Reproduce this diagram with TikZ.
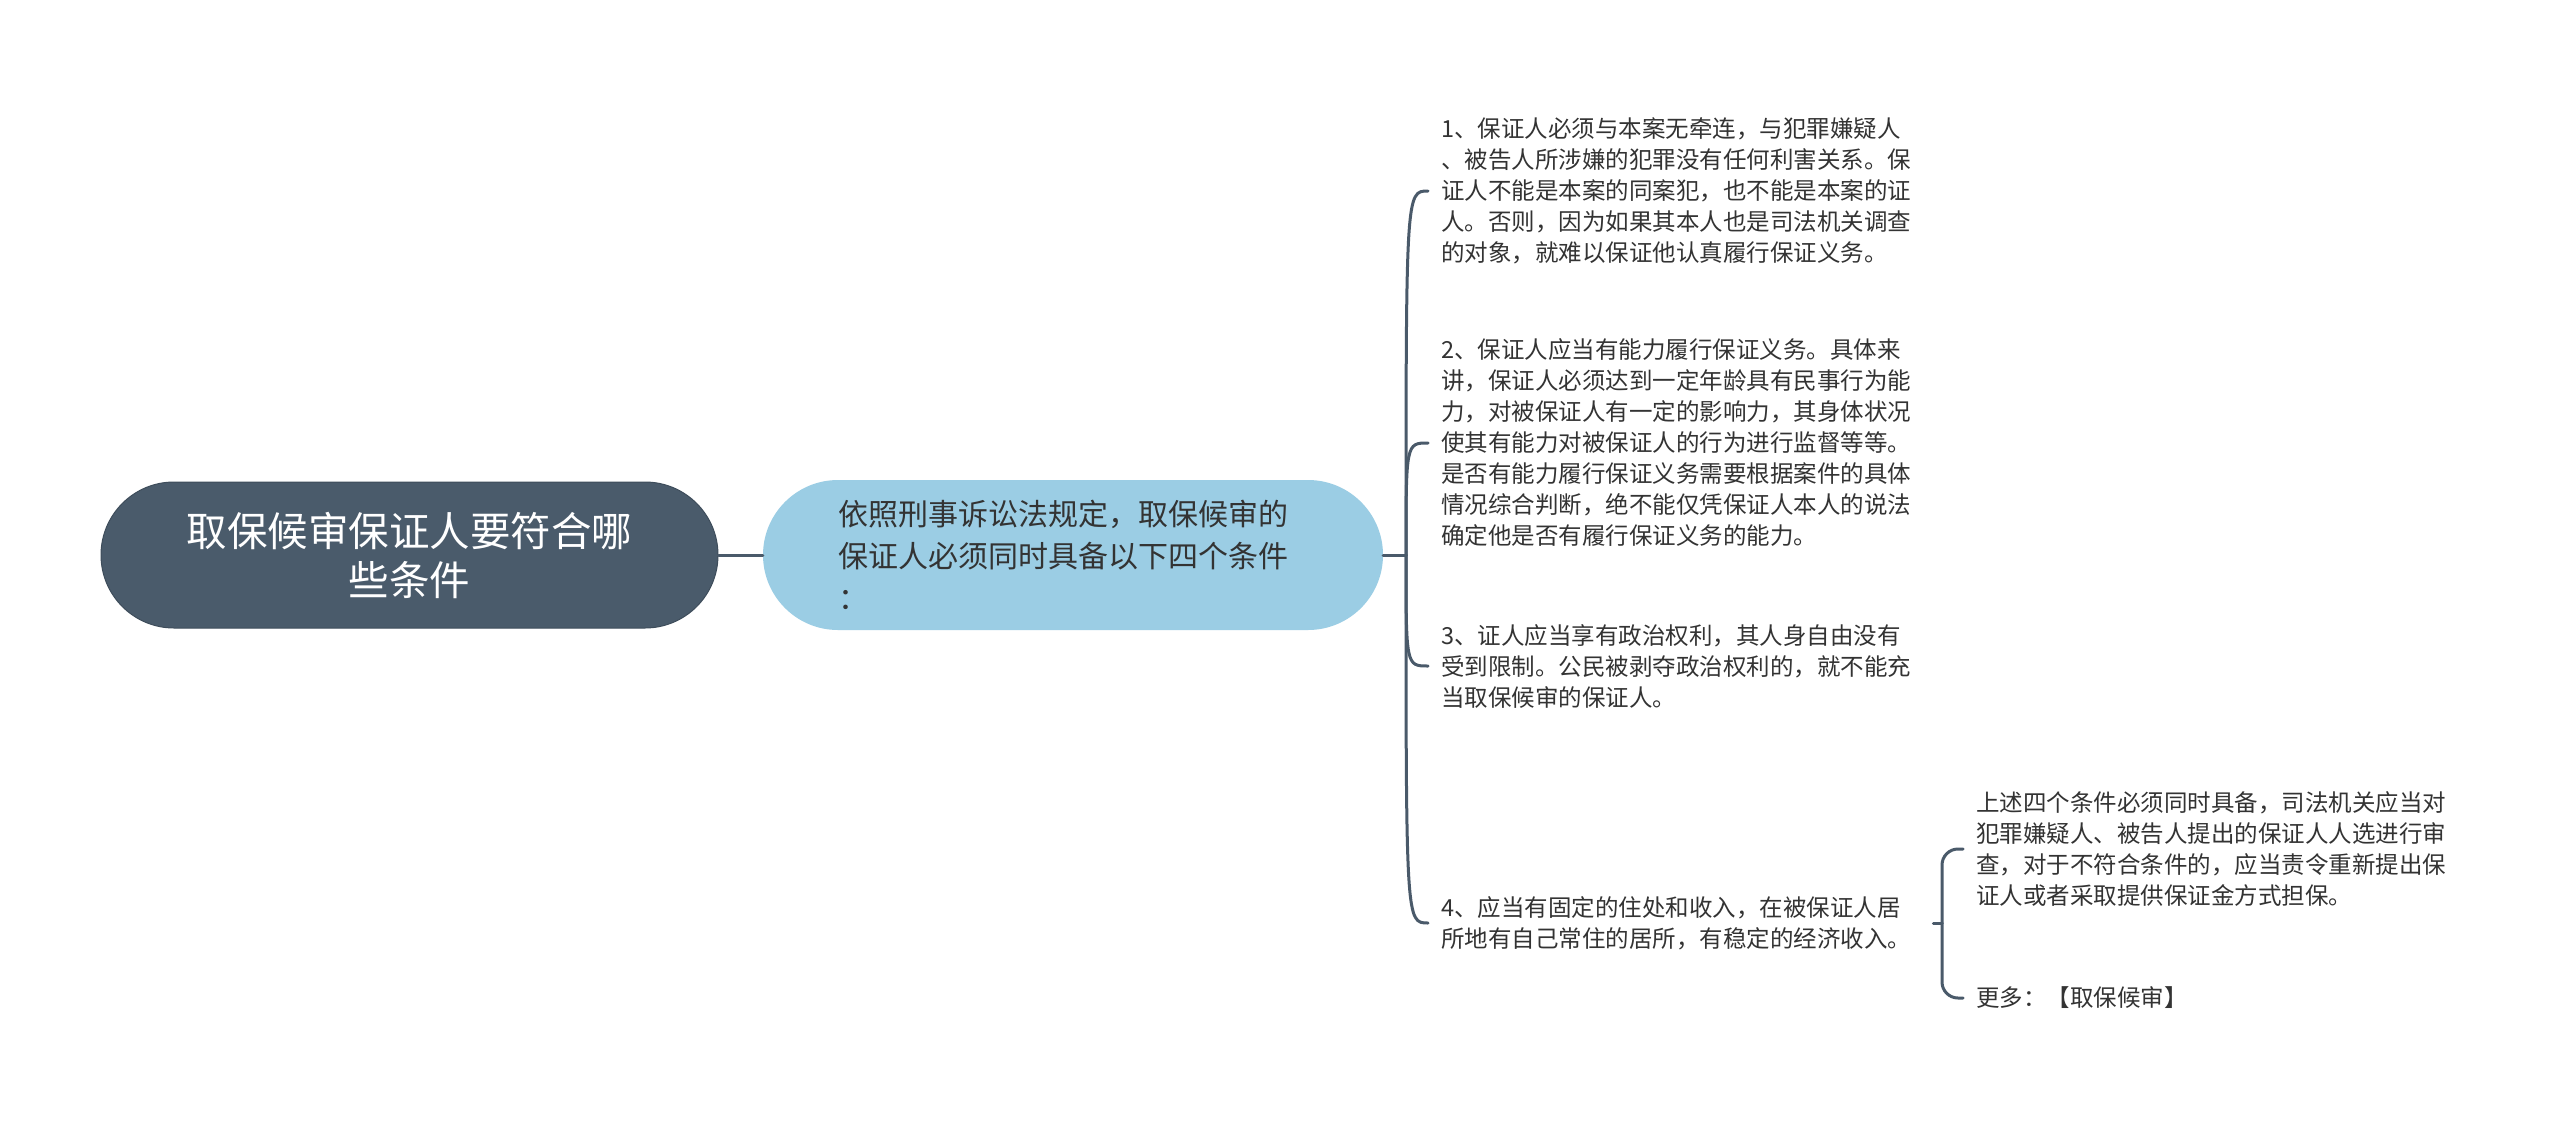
\documentclass[tikz,border=0pt]{standalone}
\usepackage{fontspec}
\setmainfont{Noto Sans CJK SC}
\definecolor{rootc}{HTML}{4A5B6B}
\definecolor{rootb}{HTML}{3E4D5B}
\definecolor{subc}{HTML}{9BCDE4}
\definecolor{linec}{HTML}{4A5A6A}
\definecolor{txt}{HTML}{333333}
\begin{document}
\begin{tikzpicture}[x=1pt,y=-1pt,
  conn/.style={draw=linec, line width=3pt, line cap=round},
  item/.style={anchor=west, align=left, inner xsep=13pt, inner ysep=4pt, text=txt, font=\fontsize{23.5}{31}\selectfont},
  rootbox/.style={fill=rootc, draw=rootb, line width=1pt, rounded corners=73pt, minimum width=617pt, minimum height=146pt, text=white, align=center, font=\fontsize{40.5}{49}\selectfont},
  subbox/.style={fill=subc, rounded corners=75pt, minimum width=620pt, minimum height=150pt, text width=470pt, align=left, text=txt, font=\fontsize{30}{42}\selectfont}
]
\useasboundingbox (0,0) rectangle (2560,1125);
\fill[white] (0,0) rectangle (2560,1125);

\node[rootbox] (root) at (409.5,555) {取保候审保证人要符合哪\\些条件};
\node[subbox] (sub) at (1073,555) {依照刑事诉讼法规定，取保候审的\\保证人必须同时具备以下四个条件\\：};

\node[item] (i1) at (1428,191) {1、保证人必须与本案无牵连，与犯罪嫌疑人\\、被告人所涉嫌的犯罪没有任何利害关系。保\\证人不能是本案的同案犯，也不能是本案的证\\人。否则，因为如果其本人也是司法机关调查\\的对象，就难以保证他认真履行保证义务。};
\node[item] (i2) at (1428,443) {2、保证人应当有能力履行保证义务。具体来\\讲，保证人必须达到一定年龄具有民事行为能\\力，对被保证人有一定的影响力，其身体状况\\使其有能力对被保证人的行为进行监督等等。\\是否有能力履行保证义务需要根据案件的具体\\情况综合判断，绝不能仅凭保证人本人的说法\\确定他是否有履行保证义务的能力。};
\node[item] (i3) at (1428,666) {3、证人应当享有政治权利，其人身自由没有\\受到限制。公民被剥夺政治权利的，就不能充\\当取保候审的保证人。};
\node[item] (i4) at (1428,923) {4、应当有固定的住处和收入，在被保证人居\\所地有自己常住的居所，有稳定的经济收入。};

\node[item] (c1) at (1963,849) {上述四个条件必须同时具备，司法机关应当对\\犯罪嫌疑人、被告人提出的保证人人选进行审\\查，对于不符合条件的，应当责令重新提出保\\证人或者采取提供保证金方式担保。};
\node[item] (c2) at (1963,998) {更多：【取保候审】};

\coordinate (tr) at (1406,555);
\coordinate (bk) at (1942,923);

\draw[conn] (root.east) -- (sub.west);
\draw[conn] (sub.east) -- (tr);
\foreach \n in {i1,i2,i3,i4}{
  \draw[conn] (tr) .. controls (tr |- \n.west) and (tr |- \n.west) .. (\n.west);
}
\draw[conn, shorten <=9pt] (i4.east) -- (bk);
\draw[conn, rounded corners=16pt] (bk) |- (c1.west);
\draw[conn, rounded corners=16pt] (bk) |- (c2.west);
\end{tikzpicture}
\end{document}
